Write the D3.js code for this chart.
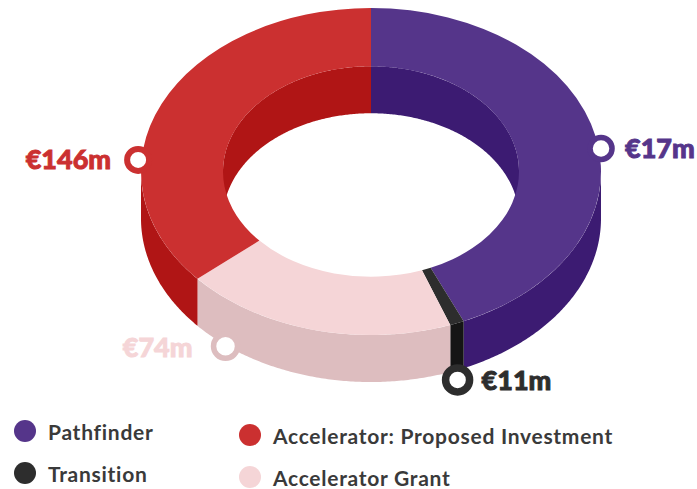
<!doctype html>
<html lang="en">
  <head>
    <meta charset="utf-8">
    <title>Funding donut</title>
    <style>
      body { margin: 0; background: #fff; }
      svg { display: block; }
      text { font-family: Lato, sans-serif; }
    </style>
  </head>
  <body>
    <script src="https://cdn.jsdelivr.net/npm/d3@7"></script>
    <script>
      // slices clockwise from 12 o'clock
      var names = ["Pathfinder", "Transition", "Accelerator Grant", "Accelerator: Proposed Investment"];
      var labels = ["€17m", "€11m", "€74m", "€146m"];
      // share of the ring in percent (the printed labels are not to scale)
      var shares = [43.4, 1.0, 19.2, 36.4];

      var topColors = ["#55358a", "#2d2d2d", "#f5d5d7", "#cb3030"];
      var wallColors = ["#3c1b72", "#151515", "#ddbdbf", "#b01515"];
      var markerColors = ["#55358a", "#2d2d2d", "#ddbdbf", "#cb3030"];
      var labelColors = ["#55358a", "#2d2d2d", "#f5d5d7", "#cb3030"];

      var width = 697, height = 489;
      var cx = 371, cy = 171.5, outerR = 230, innerR = 148, tilt = 0.711, depth = 47;

      var svg = d3.select("body").append("svg")
        .attr("width", width)
        .attr("height", height);

      var slices = d3.pie().sort(null).value(function(d){ return d; })(shares);

      function px(r, a){ return cx + r * Math.sin(a); }
      function py(r, a){ return cy - r * Math.cos(a) * tilt; }

      // side wall of a slice between two angles, on a ring of radius r
      function wall(r, a0, a1){
        var steps = d3.range(a0, a1, 0.01).concat(a1);
        return d3.area()
          .x(function(a){ return px(r, a); })
          .y0(function(a){ return py(r, a); })
          .y1(function(a){ return py(r, a) + depth; })(steps);
      }

      var walls = svg.append("g");

      // far side of the hole: only angles behind the centre can be seen
      slices.forEach(function(s, i){
        [[-Math.PI / 2, Math.PI / 2], [3 * Math.PI / 2, 5 * Math.PI / 2]].forEach(function(vis){
          var a0 = Math.max(s.startAngle, vis[0]), a1 = Math.min(s.endAngle, vis[1]);
          if (a1 > a0) {
            walls.append("path").attr("d", wall(innerR, a0, a1)).attr("fill", wallColors[i]);
          }
        });
      });

      // near side of the outer rim
      slices.forEach(function(s, i){
        var a0 = Math.max(s.startAngle, Math.PI / 2), a1 = Math.min(s.endAngle, 3 * Math.PI / 2);
        if (a1 > a0) {
          walls.append("path").attr("d", wall(outerR, a0, a1)).attr("fill", wallColors[i]);
        }
      });

      // top face
      var arc = d3.arc().innerRadius(innerR).outerRadius(outerR);

      svg.append("g")
        .attr("transform", "translate(" + cx + "," + cy + ") scale(1," + tilt + ")")
        .selectAll("path")
        .data(slices)
        .enter()
        .append("path")
        .attr("d", arc)
        .attr("fill", function(d, i){ return topColors[i]; });

      // callouts: angle in degrees on the rim, drop below the top face, ring sizes, label anchor
      var callouts = [
        { angle: 82,  grow: 1.01,  drop: 0,  r: 11,   sw: 5.5, dx: 24,  dy: 9,  anchor: "start" },
        { angle: 158, grow: 1.005, drop: 56, r: 12,   sw: 7.5, dx: 24,  dy: 10, anchor: "start" },
        { angle: 219, grow: 1.005, drop: 47, r: 12,   sw: 5.5, dx: -33, dy: 11, anchor: "end" },
        { angle: 274, grow: 1.015, drop: 0,  r: 11,   sw: 6,   dx: -27, dy: 9,  anchor: "end" }
      ];

      callouts.forEach(function(c, i){
        var a = c.angle * Math.PI / 180;
        var x = px(outerR * c.grow, a), y = py(outerR * c.grow, a) + c.drop;

        svg.append("circle")
          .attr("cx", x)
          .attr("cy", y)
          .attr("r", c.r)
          .attr("fill", "#fff")
          .attr("stroke", markerColors[i])
          .attr("stroke-width", c.sw);

        svg.append("text")
          .attr("x", x + c.dx)
          .attr("y", y + c.dy)
          .attr("text-anchor", c.anchor)
          .attr("font-size", 27)
          .attr("font-weight", 900)
          .attr("fill", labelColors[i])
          .attr("stroke", labelColors[i])
          .attr("stroke-width", 0.9)
          .text(labels[i]);
      });

      // legend
      var legendX = [25, 25, 250, 250];
      var legendY = [431, 473, 477, 435];

      var legend = svg.append("g");

      names.forEach(function(name, i){
        legend.append("circle")
          .attr("cx", legendX[i])
          .attr("cy", legendY[i])
          .attr("r", 11)
          .attr("fill", topColors[i]);

        legend.append("text")
          .attr("x", legendX[i] + 23)
          .attr("y", legendY[i] + 9)
          .attr("font-size", 21)
          .attr("letter-spacing", 0.72)
          .attr("font-weight", 700)
          .attr("fill", "#3a3a3a")
          .text(name);
      });
    </script>
  </body>
</html>
